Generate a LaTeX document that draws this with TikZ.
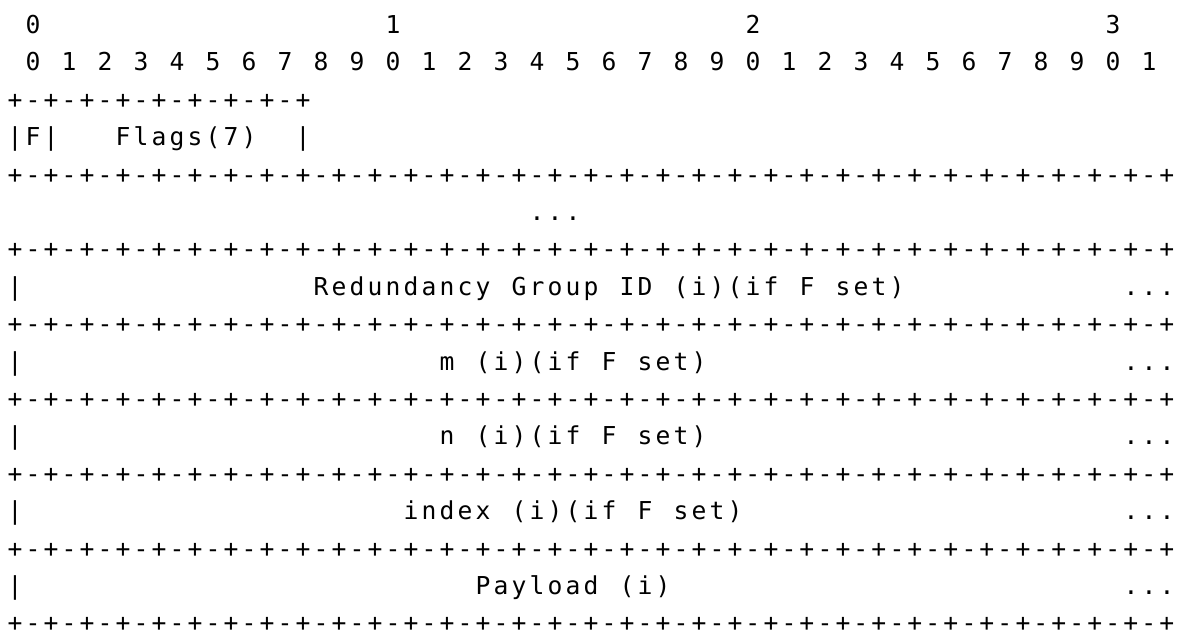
\documentclass[tikz,border=0pt]{standalone}
\usepackage{fontspec}
\newfontfamily\gridfont{DejaVu Sans Mono}
\newlength\gridcw
\setlength\gridcw{13.5pt}
\ExplSyntaxOn
\NewDocumentCommand\gridtext{m}{\exp_args:No \str_map_inline:nn {#1} {\makebox[\gridcw][c]{##1}}}
\ExplSyntaxOff
\begin{document}
\begin{tikzpicture}[x=13.5pt,y=-28.05pt,
  txt/.style={anchor=base west, inner sep=0pt, outer sep=0pt,
    font=\gridfont\fontsize{18.5pt}{18.5pt}\selectfont, text=black}]
\useasboundingbox (-0.3333,-0.895) rectangle (65.556,16.107);
% bit ruler
\node[txt] (t0) at (1,0) {\gridtext{0}};
\node[txt] (t1) at (21,0) {\gridtext{1}};
\node[txt] (t2) at (41,0) {\gridtext{2}};
\node[txt] (t3) at (61,0) {\gridtext{3}};
\node[txt] (bits) at (1,1) {\gridtext{0 1 2 3 4 5 6 7 8 9 0 1 2 3 4 5 6 7 8 9 0 1 2 3 4 5 6 7 8 9 0 1}};
% first byte
\node[txt] (btop) at (0,2) {\gridtext{+-+-+-+-+-+-+-+-+}};
\node[txt] (fbar) at (0,3) {\gridtext{|F|}};
\node[txt] (flags) at (6,3) {\gridtext{Flags(7)}};
\node[txt] (fend) at (16,3) {\gridtext{|}};
% borders
\foreach \r/\nm in {4/b1,6/b2,8/b3,10/b4,12/b5,14/b6,16/b7}
  \node[txt] (\nm) at (0,\r) {\gridtext{+-+-+-+-+-+-+-+-+-+-+-+-+-+-+-+-+-+-+-+-+-+-+-+-+-+-+-+-+-+-+-+-+}};
\node[txt] (gap) at (29,5) {\gridtext{...}};
% fields
\foreach \r/\c/\lab/\nm in {7/17/Redundancy Group ID (i)(if F set)/rg,
                            9/24/m (i)(if F set)/fm,
                            11/24/n (i)(if F set)/fn,
                            13/22/index (i)(if F set)/fi,
                            15/26/Payload (i)/fp}{
  \node[txt] (\nm-l) at (0,\r) {\gridtext{|}};
  \node[txt] (\nm) at (\c,\r) {\gridtext{\lab}};
  \node[txt] (\nm-r) at (62,\r) {\gridtext{...}};
}
\end{tikzpicture}
\end{document}
